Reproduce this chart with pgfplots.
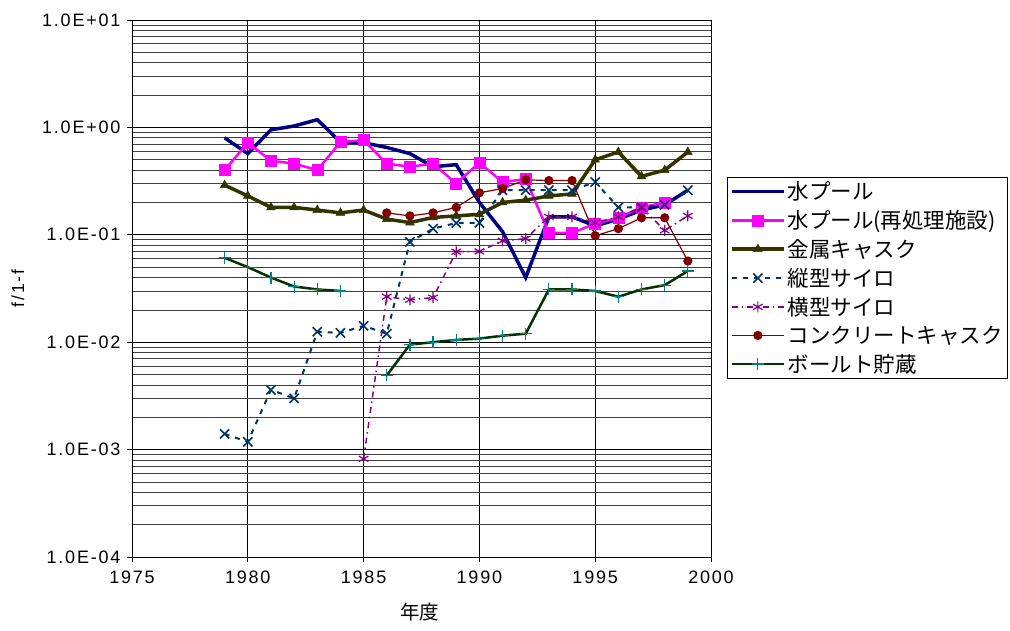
\documentclass[border=0pt]{standalone}
\usepackage{fontspec}
\setmainfont{Liberation Sans}[LetterSpace=10]
\newfontfamily\cjk{Noto Sans CJK JP}
\usepackage{pgfplots}
\pgfplotsset{compat=1.18}
\definecolor{cNavy}{RGB}{0,0,128}
\definecolor{cMag}{RGB}{255,0,255}
\definecolor{cOlive}{RGB}{51,51,0}
\definecolor{cBlue}{RGB}{0,51,102}
\definecolor{cPurp}{RGB}{128,0,128}
\definecolor{cRed}{RGB}{128,0,0}
\definecolor{cGreen}{RGB}{0,51,0}
\definecolor{cTeal}{RGB}{0,128,128}
\begin{document}
\begin{tikzpicture}
\path[use as bounding box] (0,0) rectangle (1010pt,631pt);
\begin{axis}[
 at={(132pt,74pt)}, anchor=south west,
 scale only axis, width=579pt, height=537pt,
 ymode=log, xmin=1975, xmax=2000, ymin=1e-4, ymax=10,
 xtick={1975,1980,...,2000}, xticklabels={1975,1980,1985,1990,1995,2000},
 ytick={1e-4,1e-3,1e-2,1e-1,1,10},
 yticklabels={1.0E-04,1.0E-03,1.0E-02,1.0E-01,1.0E+00,1.0E+01},
 xmajorgrids, ymajorgrids, yminorgrids,
 major grid style={black, line width=0.8pt},
 minor grid style={black!75, line width=0.7pt},
 axis line style={black, line width=0.8pt},
 tick pos=left, tick align=outside, major tick length=5pt, minor tick length=0pt,
 tick style={black, line width=0.8pt},
 ticklabel style={font=\fontsize{18}{20}\selectfont},
 xticklabel style={yshift=-5pt},
 yticklabel style={xshift=-3pt},
 ylabel={f/1-f},
 ylabel style={at={(axis description cs:-0.197,0.5)}, anchor=center, font=\fontsize{17.5}{19}\selectfont},
 xlabel={\cjk 年度},
 xlabel style={at={(axis description cs:0.497,-0.102)}, anchor=center, font=\fontsize{19.5}{21}\selectfont},
 unbounded coords=jump,
 legend cell align=left,
 legend style={at={(axis description cs:1.028,0.708)}, anchor=north west,
   draw=black, line width=0.8pt, fill=white, font=\fontsize{21.5}{25}\selectfont,
   row sep=5.3pt, inner sep=2.5pt},
 legend image code/.code={\draw[mark repeat=2,mark phase=2,#1] plot coordinates {(0pt,0pt)(26pt,0pt)(52pt,0pt)};},
]
\addplot[cNavy, line width=3.5pt, no marks] coordinates {
(1979,0.80)(1980,0.57)(1981,0.95)(1982,1.03)(1983,1.18)(1984,0.73)(1985,0.72)(1986,0.65)(1987,0.57)(1988,0.43)(1989,0.45)(1990,0.20)(1991,0.107)(1992,0.040)(1993,0.147)(1994,0.147)(1995,0.121)(1996,0.14)(1997,0.17)(1998,0.19)(1999,0.26)};
\addlegendentry{\cjk 水プール}
\addplot[cMag, line width=2.5pt, mark=square*, mark size=5.5pt, mark options={solid,line width=0.5pt}] coordinates {
(1979,0.40)(1980,0.72)(1981,0.49)(1982,0.46)(1983,0.40)(1984,0.73)(1985,0.76)(1986,0.46)(1987,0.43)(1988,0.46)(1989,0.30)(1990,0.47)(1991,0.31)(1992,0.33)(1993,0.104)(1994,0.104)(1995,0.127)(1996,0.144)(1997,0.18)(1998,0.20)};
\addlegendentry{\cjk 水プール(再処理施設)}
\addplot[cOlive, line width=3.5pt, mark=triangle*, mark size=5pt, mark options={solid,line width=0.5pt}] coordinates {
(1979,0.29)(1980,0.23)(1981,0.18)(1982,0.18)(1983,0.17)(1984,0.16)(1985,0.17)(1986,0.14)(1987,0.13)(1988,0.145)(1989,0.15)(1990,0.155)(1991,0.20)(1992,0.21)(1993,0.23)(1994,0.24)(1995,0.50)(1996,0.59)(1997,0.35)(1998,0.40)(1999,0.59)};
\addlegendentry{\cjk 金属キャスク}
\addplot[cBlue, line width=2pt, dash pattern=on 5pt off 6pt, mark=x, mark size=6.5pt, mark options={solid,line width=1.6pt}] coordinates {
(1979,0.0014)(1980,0.00118)(1981,0.0036)(1982,0.0030)(1983,0.0125)(1984,0.0122)(1985,0.0142)(1986,0.012)(1987,0.086)(1988,0.114)(1989,0.129)(1990,0.129)(1991,0.26)(1992,0.26)(1993,0.26)(1994,0.26)(1995,0.31)(1996,0.18)(1997,0.18)(1998,0.19)(1999,0.26)};
\addlegendentry{\cjk 縦型サイロ}
\addplot[cPurp, line width=1.5pt, dash pattern=on 6pt off 4pt on 1.5pt off 4pt, mark=asterisk, mark size=5.5pt, mark options={solid,line width=1.2pt}] coordinates {
(1985,0.00082)(1986,0.0265)(1987,0.0248)(1988,0.026)(1989,0.0695)(1990,0.07)(1991,0.088)(1992,0.092)(1993,0.147)(1994,0.147)(1995,0.13)(1996,0.147)(1997,0.18)(1998,0.11)(1999,0.15)};
\addlegendentry{\cjk 横型サイロ}
\addplot[cRed, line width=1.2pt, mark=*, mark size=4pt, mark options={solid}] coordinates {
(1986,0.16)(1987,0.15)(1988,0.16)(1989,0.18)(1990,0.246)(1991,0.27)(1992,0.325)(1993,0.32)(1994,0.32)(1995,0.098)(1996,0.114)(1997,0.144)(1998,0.144)(1999,0.057)};
\addlegendentry{\cjk コンクリートキャスク}
\addplot[cGreen, line width=2.5pt, mark=+, mark size=6pt, mark options={solid,cTeal,line width=1.2pt}] coordinates {
(1979,0.061)(1980,0.050)(1981,0.040)(1982,0.033)(1983,0.031)(1984,0.030)(1985,nan)(1986,0.0049)(1987,0.0095)(1988,0.010)(1989,0.0105)(1990,0.0108)(1991,0.0115)(1992,0.012)(1993,0.031)(1994,0.031)(1995,0.030)(1996,0.0265)(1997,0.031)(1998,0.034)(1999,0.046)};
\addlegendentry{\cjk ボールト貯蔵}
\end{axis}
\end{tikzpicture}
\end{document}
